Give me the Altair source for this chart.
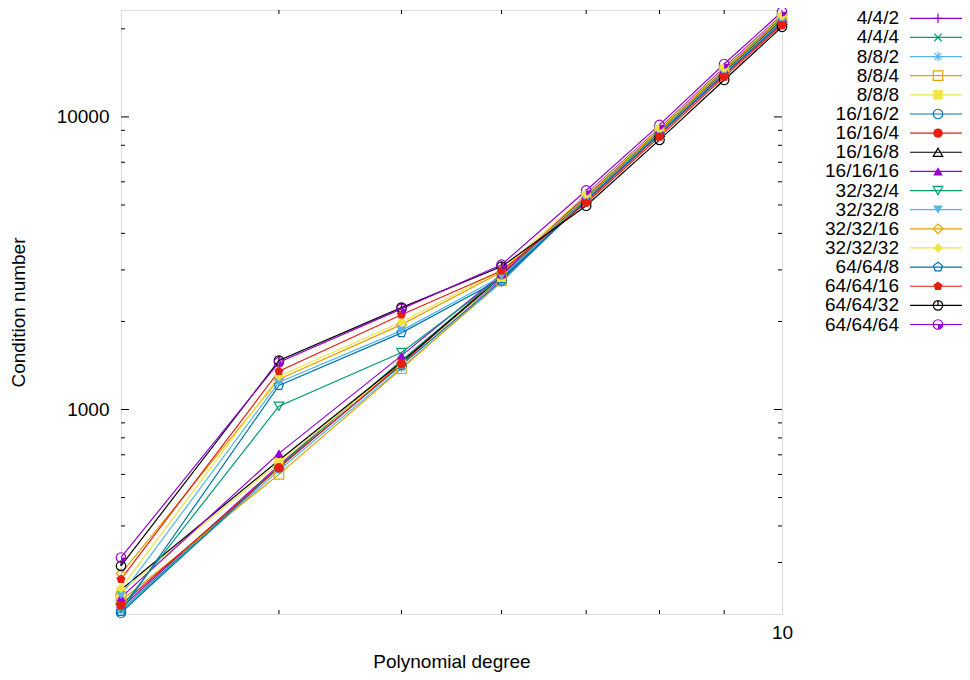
import altair as alt
import pandas as pd

degrees = [3, 4, 5, 6, 7, 8, 9, 10]

series_names = ["4/4/2", "4/4/4", "8/8/2", "8/8/4", "8/8/8",
                "16/16/2", "16/16/4", "16/16/8", "16/16/16",
                "32/32/4", "32/32/8", "32/32/16", "32/32/32",
                "64/64/8", "64/64/16", "64/64/32", "64/64/64"]

s_4_4_2 = [210, 645, 1460, 2800, 5450, 9150, 14750, 22300]
s_4_4_4 = [206, 640, 1470, 2850, 5350, 9000, 14480, 21850]
s_8_8_2 = [205, 620, 1390, 2720, 5240, 8840, 14200, 21350]
s_8_8_4 = [222, 600, 1378, 2750, 5280, 8900, 14300, 21550]
s_8_8_8 = [238, 658, 1440, 2830, 5380, 9050, 14550, 21950]
s_16_16_2 = [202, 635, 1420, 2760, 5200, 8780, 14080, 21150]
s_16_16_4 = [215, 632, 1432, 2890, 5150, 8680, 13900, 20850]
s_16_16_8 = [242, 671, 1450, 2850, 5260, 8870, 14250, 21450]
s_16_16_16 = [228, 708, 1528, 2900, 5400, 9080, 14600, 22050]
s_32_32_4 = [210, 1026, 1567, 2830, 5330, 8980, 14420, 21750]
s_32_32_8 = [232, 1240, 1860, 2850, 5230, 8820, 14150, 21250]
s_32_32_16 = [275, 1270, 1950, 2950, 5300, 8950, 14380, 21650]
s_32_32_32 = [245, 1300, 1990, 3000, 5420, 9100, 14650, 22150]
s_64_64_8 = [204, 1208, 1828, 2800, 5180, 8740, 14000, 21000]
s_64_64_16 = [263, 1352, 2108, 2980, 5080, 8550, 13700, 20600]
s_64_64_32 = [292, 1470, 2230, 3080, 4970, 8347, 13370, 20320]
s_64_64_64 = [312, 1450, 2207, 3126, 5606, 9390, 15170, 22880]

series_values = [s_4_4_2, s_4_4_4, s_8_8_2, s_8_8_4, s_8_8_8,
                 s_16_16_2, s_16_16_4, s_16_16_8, s_16_16_16,
                 s_32_32_4, s_32_32_8, s_32_32_16, s_32_32_32,
                 s_64_64_8, s_64_64_16, s_64_64_32, s_64_64_64]

PURPLE, GREEN, LBLUE, ORANGE = "#9400d3", "#009e73", "#56b4e9", "#e69f00"
YELLOW, BLUE, RED, BLACK = "#f0e442", "#0072b2", "#e51e10", "#000000"
series_colors = [PURPLE, GREEN, LBLUE, ORANGE, YELLOW, BLUE, RED, BLACK,
                 PURPLE, GREEN, LBLUE, ORANGE, YELLOW, BLUE, RED, BLACK, PURPLE]

PLUS = "M-1,0L1,0M0,-1L0,1"
CROSS = "M-0.8,-0.8L0.8,0.8M-0.8,0.8L0.8,-0.8"
STAR = "M-1,0L1,0M0,-1L0,1M-0.7,-0.7L0.7,0.7M-0.7,0.7L0.7,-0.7"
PENT = "M0,-1L0.951,-0.309L0.588,0.809L-0.588,0.809L-0.951,-0.309Z"
CIRC_LINE = "M1,0A1,1 0 1,1 -1,0A1,1 0 1,1 1,0ZM0,-1L0,0"
WEDGE = "M0,0L1,0A1,1 0 0,1 0,1Z"
series_shapes = [PLUS, CROSS, STAR, "square", "square", "circle", "circle",
                 "triangle-up", "triangle-up", "triangle-down", "triangle-down",
                 "diamond", "diamond", PENT, PENT, CIRC_LINE, "circle"]
series_filled = [False, False, False, False, True, False, True, False, True,
                 False, True, False, True, False, True, False, False]

x_minor_ticks = [4, 5, 6, 7, 8, 9]
y_major_ticks = [1000, 10000]
y_minor_ticks = [300, 400, 500, 600, 700, 800, 900,
                 2000, 3000, 4000, 5000, 6000, 7000, 8000, 9000, 20000]

W, H = 661, 604
FONT = "Liberation Sans"
FS = 19

rows = []
for name, vals, filled in zip(series_names, series_values, series_filled):
    for d, v in zip(degrees, vals):
        rows.append({"name": name, "degree": d, "value": v, "filled": filled})
df = pd.DataFrame(rows)
leg_df = pd.DataFrame({"name": series_names, "filled": series_filled})

xs = alt.Scale(type="log", domain=[3, 10], nice=False)
ys = alt.Scale(type="log", domain=[200, 23200], nice=False)
cs = alt.Scale(domain=series_names, range=series_colors)
ss = alt.Scale(domain=series_names, range=series_shapes)
ls = alt.Scale(type="point", domain=series_names, range=[8.3, 314.5], padding=0)

x_axis = alt.Axis(values=[10], format="d", title="Polynomial degree", ticks=False,
                  domain=False, grid=False, labelPadding=9, labelFontSize=FS,
                  labelFlush=False, labelOverlap=False,
                  titleFontSize=FS, titleFontWeight="normal", titleX=330.5,
                  titleY=47, titleBaseline="middle", labelColor="black",
                  titleColor="black", labelFont=FONT, titleFont=FONT)
y_axis = alt.Axis(values=[1000, 10000], format="d", title="Condition number",
                  ticks=False, domain=False, grid=False, labelPadding=12,
                  labelFlush=False, labelOverlap=False,
                  labelFontSize=FS, titleFontSize=FS, titleFontWeight="normal",
                  titleX=-103, titleY=302, titleBaseline="middle",
                  labelColor="black", titleColor="black", labelFont=FONT,
                  titleFont=FONT)

X = alt.X("degree:Q", scale=xs, axis=x_axis)
Y = alt.Y("value:Q", scale=ys, axis=y_axis)
XT = alt.X("t:Q", scale=xs, axis=x_axis)
YT = alt.Y("t:Q", scale=ys, axis=y_axis)
COL = alt.Color("name:N", scale=cs, legend=None)
SHP = alt.Shape("name:N", scale=ss, legend=None)

base = alt.Chart(df)
lines = base.mark_line(strokeWidth=1.2).encode(x=X, y=Y, color=COL, detail="name:N")
open_pts = base.transform_filter("!datum.filled").mark_point(
    filled=False, size=90, strokeWidth=1.2, opacity=1).encode(
    x=X, y=Y, color=COL, shape=SHP)
fill_pts = base.transform_filter("datum.filled").mark_point(
    filled=True, size=90, opacity=1).encode(x=X, y=Y, color=COL, shape=SHP)
wedge_pts = base.transform_filter("datum.name == '64/64/64'").mark_point(
    filled=True, size=90, opacity=1, shape=WEDGE).encode(x=X, y=Y, color=COL)

xt = alt.Chart(pd.DataFrame({"t": x_minor_ticks}))
ytM = alt.Chart(pd.DataFrame({"t": y_major_ticks}))
ytm = alt.Chart(pd.DataFrame({"t": y_minor_ticks}))
tick_kw = dict(color="black", strokeWidth=1)
bx = xt.mark_rule(**tick_kw).encode(x=XT, y=alt.value(H), y2=alt.value(H - 4))
tx = xt.mark_rule(**tick_kw).encode(x=XT, y=alt.value(0), y2=alt.value(4))
lM = ytM.mark_rule(**tick_kw).encode(y=YT, x=alt.value(0), x2=alt.value(8))
rM = ytM.mark_rule(**tick_kw).encode(y=YT, x=alt.value(W), x2=alt.value(W - 8))
lm = ytm.mark_rule(**tick_kw).encode(y=YT, x=alt.value(0), x2=alt.value(4))
rm = ytm.mark_rule(**tick_kw).encode(y=YT, x=alt.value(W), x2=alt.value(W - 4))

main = alt.layer(lines, bx, tx, lM, rM, lm, rm, open_pts, fill_pts, wedge_pts)

lb = alt.Chart(leg_df)
leg_y = alt.Y("name:N", scale=ls, axis=None)
leg_text = lb.mark_text(align="right", baseline="middle", fontSize=FS,
                        font=FONT, color="black").encode(
    x=alt.value(778), y=leg_y, text="name:N")
leg_line = lb.mark_rule(strokeWidth=1.2).encode(
    x=alt.value(789), x2=alt.value(844), y=leg_y, color=COL)
leg_open = lb.transform_filter("!datum.filled").mark_point(
    filled=False, size=90, strokeWidth=1.2, opacity=1).encode(
    x=alt.value(817), y=leg_y, color=COL, shape=SHP)
leg_fill = lb.transform_filter("datum.filled").mark_point(
    filled=True, size=90, opacity=1).encode(
    x=alt.value(817), y=leg_y, color=COL, shape=SHP)
leg_wedge = lb.transform_filter("datum.name == '64/64/64'").mark_point(
    filled=True, size=90, opacity=1, shape=WEDGE).encode(
    x=alt.value(817), y=leg_y, color=COL)
legend = alt.layer(leg_text, leg_line, leg_open, leg_fill, leg_wedge)

chart = alt.layer(main, legend).resolve_scale(y="independent").properties(
    width=W, height=H,
    autosize=alt.AutoSizeParams(type="none"),
    padding={"left": 113, "top": 2, "right": 180, "bottom": 60},
).configure_view(stroke="black", strokeWidth=1).configure(font=FONT, background="white")

chart.save("out.html", embed_options={"renderer": "svg", "actions": False})
